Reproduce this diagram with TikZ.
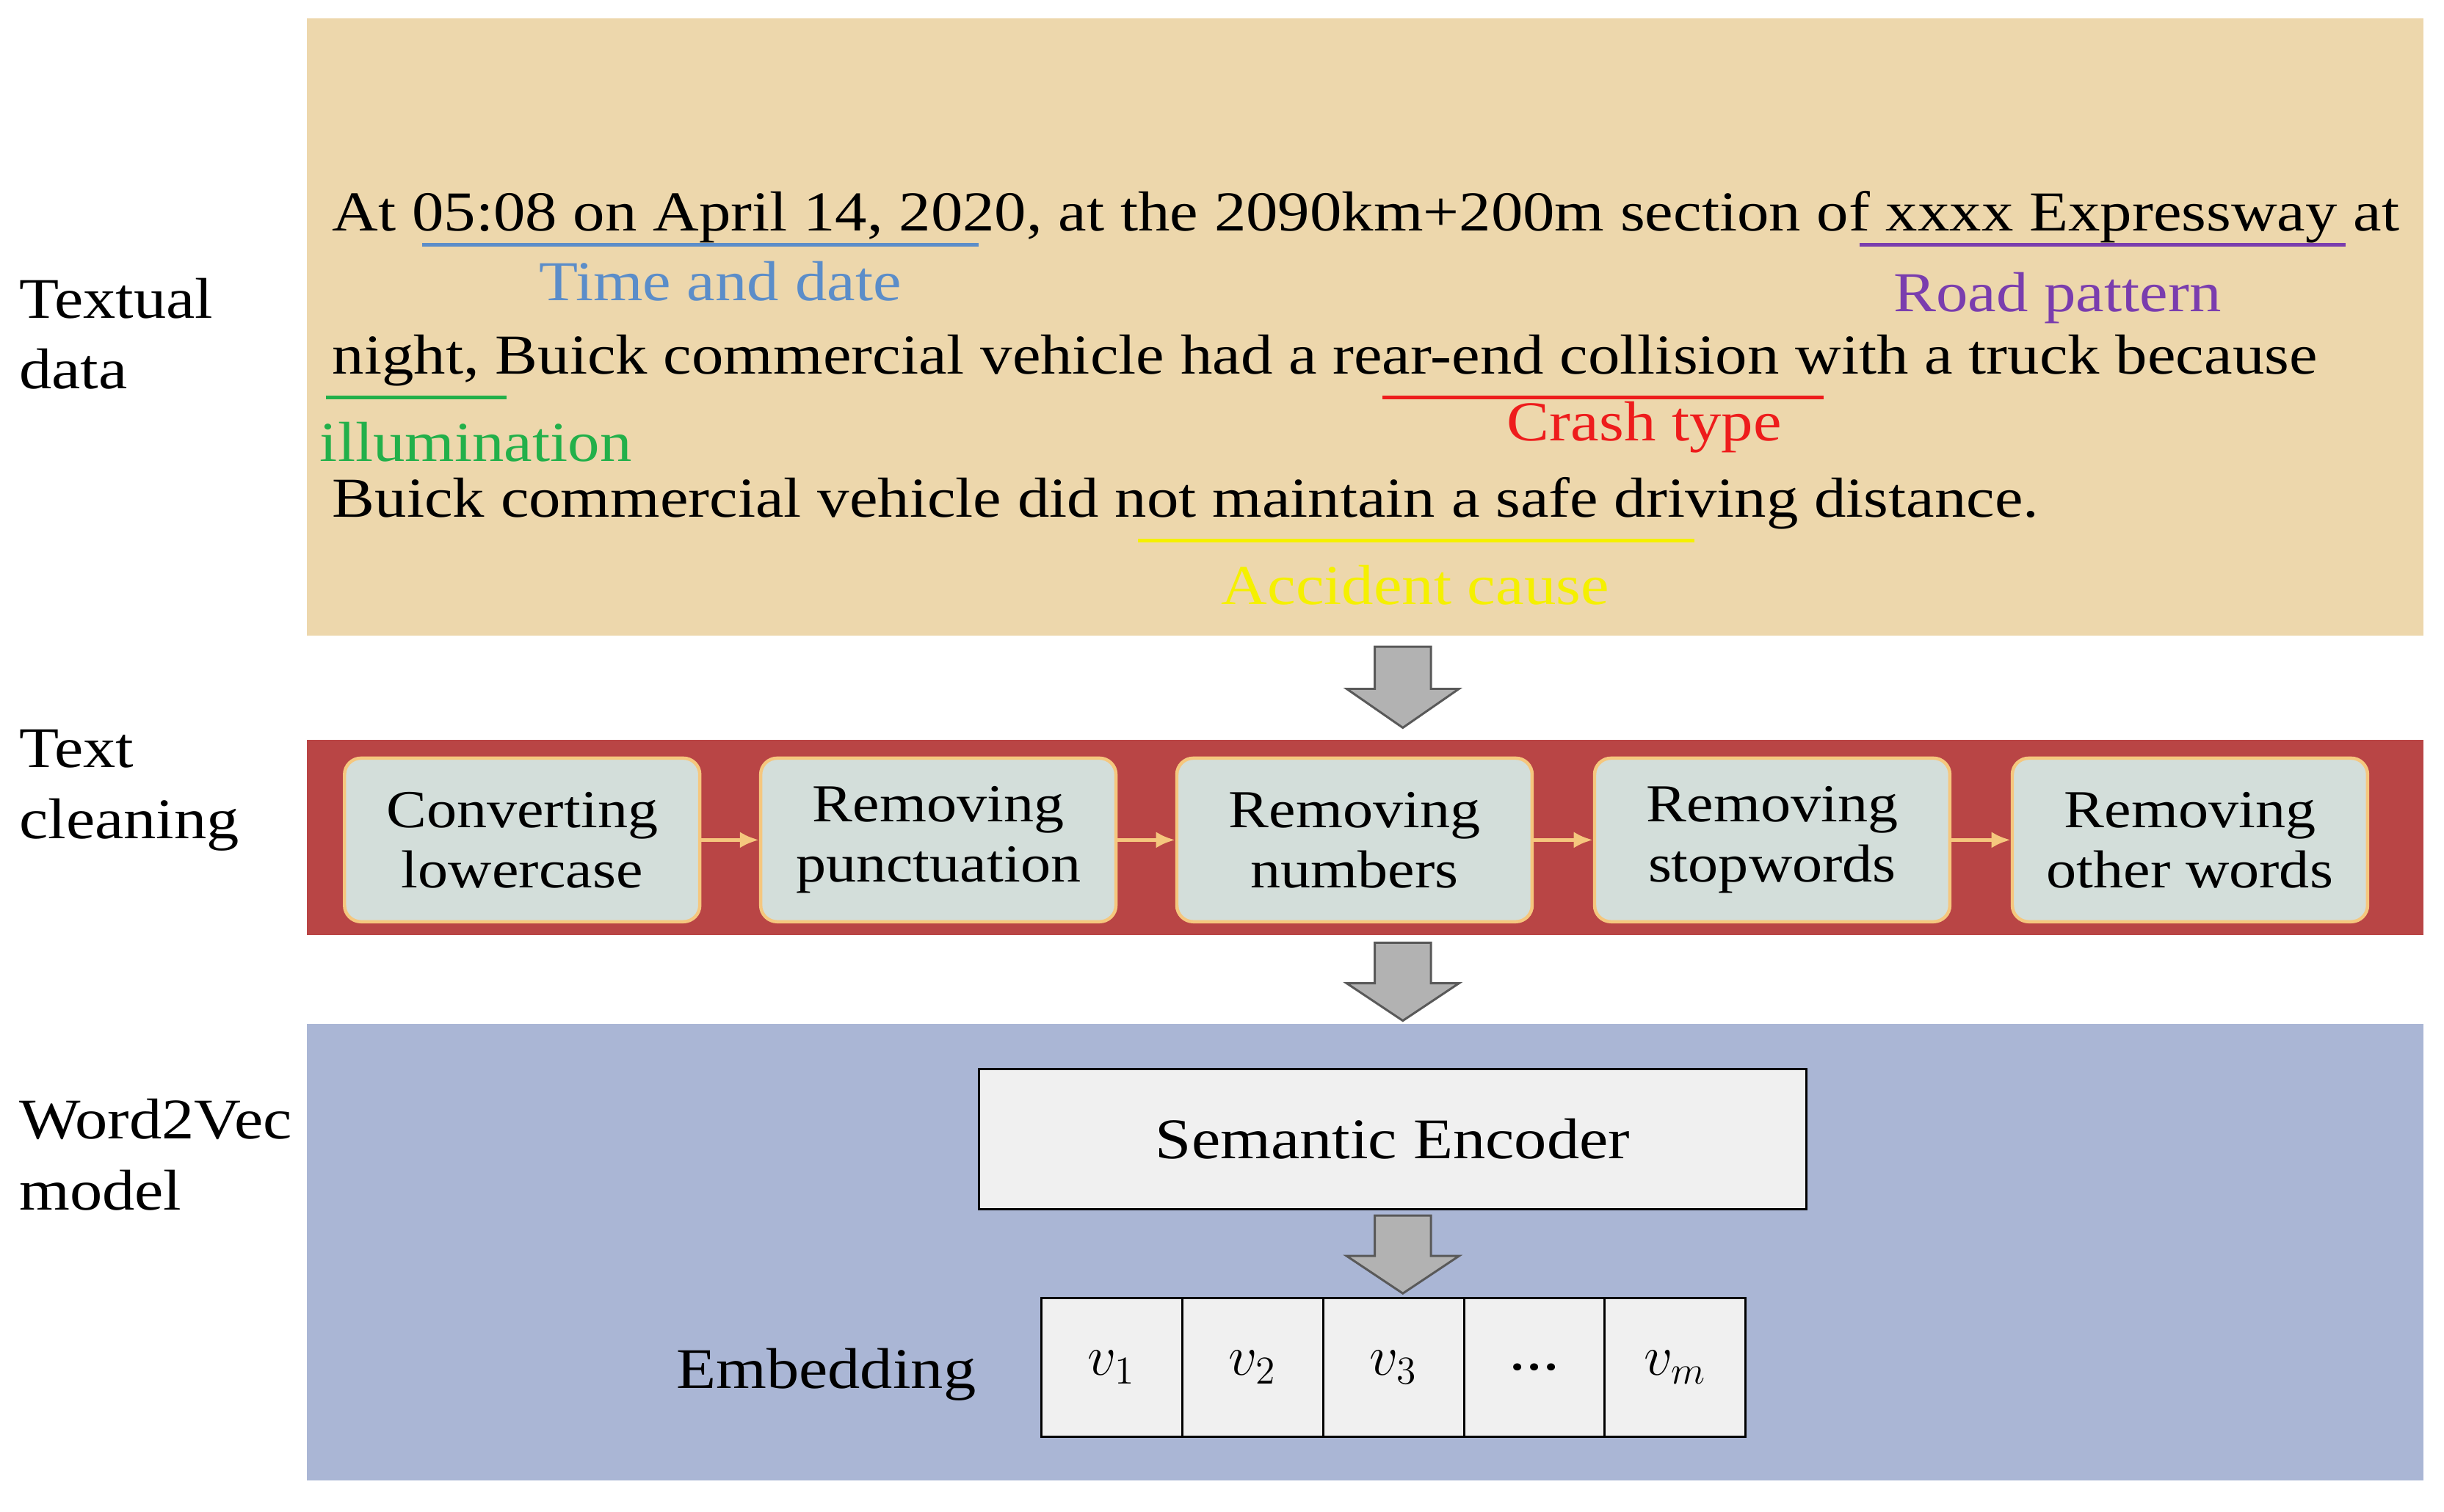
\documentclass[tikz,border=0pt]{standalone}
\usepackage{fontspec}
\setmainfont[FakeStretch=1.13]{Liberation Serif}
\usetikzlibrary{arrows.meta}
\definecolor{beige}{HTML}{EDD7AC}
\definecolor{redband}{HTML}{B94545}
\definecolor{blueband}{HTML}{AAB6D5}
\definecolor{boxfill}{HTML}{D3DEDA}
\definecolor{boxedge}{HTML}{F5C77E}
\definecolor{tdblue}{HTML}{5B8DC9}
\definecolor{rppurple}{HTML}{7A3DAE}
\definecolor{ilgreen}{HTML}{22B04A}
\definecolor{ctred}{HTML}{EE1C1C}
\definecolor{acyellow}{HTML}{F5F000}
\tikzset{
  x=0.02cm,y=-0.02cm,
  main/.style={font=\fontsize{20.6}{24}\selectfont, anchor=base west, inner sep=0},
  lab/.style={font=\fontsize{20.6}{24}\selectfont, anchor=base, inner sep=0},
  side/.style={font=\fontsize{21}{26}\selectfont, align=left, anchor=north west, inner sep=0},
  cleanbox/.style={draw=boxedge, line width=1.2pt, fill=boxfill, rounded corners=6pt, minimum width=4.56cm, minimum height=2.1cm, align=center, font=\fontsize{19.5}{22}\selectfont},
  cell/.style={draw=black, fill=white!94!black, line width=0.8pt, minimum width=1.808cm, minimum height=1.78cm, inner sep=0, font=\fontsize{22}{26}\selectfont},
  garrow/.style={fill=black!30, draw=black!65, line width=0.8pt},
  oarrow/.style={-{Latex[length=7pt,width=6pt]}, draw=boxedge, line width=1.4pt},
  uline/.style={line width=1.3pt}
}
\begin{document}
\begin{tikzpicture}
\useasboundingbox (0,0) rectangle (1568,970);
\fill[beige] (197,12) rectangle (1555,408);
\fill[redband] (197,475) rectangle (1555,600);
\fill[blueband] (197,657) rectangle (1555,950);
\node[side] (l1) at (12,178) {Textual\\data};
\node[side] (l2) at (12,468) {Text\\cleaning};
\node[side] (l3) at (12,705) {Word2Vec\\model};
\node[main] (t1) at (213,148) {At 05:08 on April 14, 2020, at the 2090km+200m section of xxxx Expressway at};
\node[main] (t2) at (213,240) {night, Buick commercial vehicle had a rear-end collision with a truck because};
\node[main] (t3) at (213,332) {Buick commercial vehicle did not maintain a safe driving distance.};
\draw[uline,tdblue] (271,157) -- (628,157);
\node[lab,text=tdblue] (ld) at (462,193) {Time and date};
\draw[uline,rppurple] (1193,157) -- (1505,157);
\node[lab,text=rppurple] (lr) at (1320,200) {Road pattern};
\draw[uline,ilgreen] (209,255) -- (325,255);
\node[main,text=ilgreen] (li) at (205,296) {illumination};
\draw[uline,ctred] (887,255) -- (1170,255);
\node[lab,text=ctred] (lc) at (1055,283) {Crash type};
\draw[uline,acyellow] (730,347) -- (1087,347);
\node[lab,text=acyellow] (la) at (908,388) {Accident cause};
\foreach \t/\b in {415/467, 605/655, 780/830}{
  \pgfmathsetmacro{\m}{\t+0.52*(\b-\t)}
  \draw[garrow] (882,\t) -- (918,\t) -- (918,\m) -- (936,\m) -- (900,\b) -- (864,\m) -- (882,\m) -- cycle;
}
\node[cleanbox] (c1) at (335,539) {Converting\\lowercase};
\node[cleanbox] (c2) at (602,539) {Removing\\punctuation};
\node[cleanbox] (c3) at (869,539) {Removing\\numbers};
\node[cleanbox] (c4) at (1137,539) {Removing\\stopwords};
\node[cleanbox] (c5) at (1405,539) {Removing\\other words};
\draw[oarrow] (c1) -- (c2);
\draw[oarrow] (c2) -- (c3);
\draw[oarrow] (c3) -- (c4);
\draw[oarrow] (c4) -- (c5);
\node[draw=black, fill=white!94!black, line width=0.8pt, minimum width=10.62cm, minimum height=1.8cm, font=\fontsize{21}{24}\selectfont] (enc) at (893.5,731) {Semantic Encoder};
\node[font=\fontsize{21}{24}\selectfont] (emb) at (530,882) {Embedding};
\node[cell] (v1) at (713.2,877.5) {$v_1$};
\node[cell] (v2) at (803.6,877.5) {$v_2$};
\node[cell] (v3) at (894,877.5) {$v_3$};
\node[cell] (v4) at (984.4,877.5) {...};
\node[cell] (v5) at (1074.8,877.5) {$v_m$};
\end{tikzpicture}
\end{document}
